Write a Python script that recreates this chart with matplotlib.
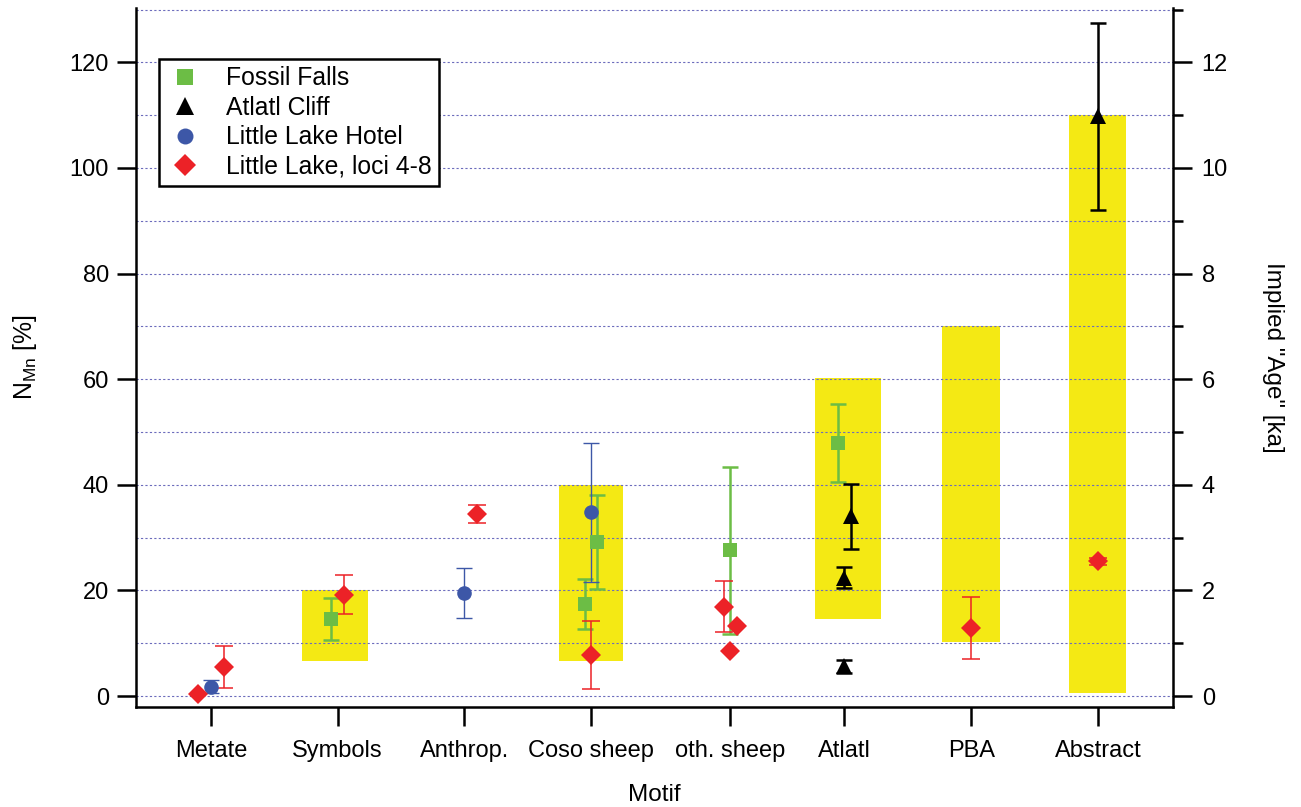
import matplotlib
matplotlib.use('Agg')
import matplotlib.pyplot as plt
from matplotlib.ticker import MultipleLocator
import numpy as np

plt.rcParams['font.family'] = ['Liberation Sans', 'DejaVu Sans']

# kategorie (motywy)
categories = ['Metate', 'Symbols', 'Anthrop.', 'Coso sheep', 'oth. sheep',
              'Atlatl', 'PBA', 'Abstract']
cat_pos = [0, 1, 2, 3, 4.1, 5, 6, 7]

# Fossil Falls
ff_cat = ['Symbols', 'Coso sheep', 'Coso sheep', 'oth. sheep', 'Atlatl']
ff_val = [14.6, 29.2, 17.4, 27.6, 47.9]
ff_err = [4.0, 8.9, 4.8, 15.8, 7.4]
ff_dx = [-0.05, 0.05, -0.05, 0.0, -0.05]

# Atlatl Cliff
ac_cat = ['Atlatl', 'Atlatl', 'Atlatl', 'Abstract']
ac_val = [34.0, 22.4, 5.6, 109.8]
ac_err = [6.1, 2.0, 1.2, 17.7]
ac_dx = [0.05, 0.0, 0.0, 0.0]

# Little Lake Hotel
llh_cat = ['Metate', 'Anthrop.', 'Coso sheep']
llh_val = [1.8, 19.5, 34.8]
llh_err = [1.2, 4.8, 13.2]
llh_dx = [0.0, 0.0, 0.0]

# Little Lake, loci 4-8
ll_cat = ['Metate', 'Metate', 'Symbols', 'Anthrop.', 'Coso sheep', 'oth. sheep',
          'oth. sheep', 'oth. sheep', 'PBA', 'Abstract']
ll_val = [0.4, 5.5, 19.2, 34.4, 7.8, 16.9, 13.2, 8.6, 12.9, 25.5]
ll_err = [0.0, 3.9, 3.7, 1.7, 6.4, 4.8, 0.0, 0.0, 5.8, 0.6]
ll_dx = [-0.1, 0.1, 0.05, 0.1, 0.0, -0.05, 0.05, 0.0, 0.0, 0.0]

# przedzialy wieku [ka] (zolte slupki)
age_cat = ['Symbols', 'Coso sheep', 'Atlatl', 'PBA', 'Abstract']
age_lo = [0.66, 0.67, 1.46, 1.03, 0.06]
age_hi = [2.0, 4.0, 6.02, 7.0, 11.0]
age_width = [0.52, 0.5, 0.52, 0.46, 0.45]
age_dx = [-0.02, 0.0, 0.03, 0.0, 0.0]

KA_SCALE = 10.0  # 1 ka = 10 %

GREEN = '#6cbd45'
BLUE = '#3d57a7'
RED = '#ec2227'
YELLOW = '#f4e914'
GRID = '#6c6cbc'


def xs(cats, dx):
    return [cat_pos[categories.index(c)] + d for c, d in zip(cats, dx)]


def series(ax, cats, dx, val, err, marker, ms, color, lw, cap):
    eb = ax.errorbar(xs(cats, dx), val, yerr=err, fmt=marker, ms=ms, color=color,
                     ecolor=color, elinewidth=lw, capsize=cap, capthick=lw, zorder=3)
    eb[0].set_markeredgewidth(0)
    return eb


fig = plt.figure(figsize=(13.01, 8.07), dpi=100)
ax = fig.add_axes([0.1045, 0.1239, 0.7971, 0.8662])

# zolte slupki z zakresem wieku
bx = xs(age_cat, age_dx)
lo = np.array(age_lo) * KA_SCALE
hi = np.array(age_hi) * KA_SCALE
ax.bar(bx, hi - lo, bottom=lo, width=age_width, color=YELLOW, zorder=1)

# serie z slupkami bledow
series(ax, ff_cat, ff_dx, ff_val, ff_err, 's', 10.5, GREEN, 1.8, 5.5)
series(ax, ac_cat, ac_dx, ac_val, ac_err, '^', 12, 'black', 1.8, 5.8)
series(ax, llh_cat, llh_dx, llh_val, llh_err, 'o', 10.5, BLUE, 1.0, 5.5)
series(ax, ll_cat, ll_dx, ll_val, ll_err, 'D', 10.5, RED, 1.1, 6.5)

# legenda (same markery)
ax.plot([], [], 's', ms=11, color=GREEN, mew=0, label='Fossil Falls')
ax.plot([], [], '^', ms=12.5, color='black', mew=0, label='Atlatl Cliff')
ax.plot([], [], 'o', ms=11.5, color=BLUE, mew=0, label='Little Lake Hotel')
ax.plot([], [], 'D', ms=11, color=RED, mew=0, label='Little Lake, loci 4-8')
leg = ax.legend(loc='upper left', bbox_to_anchor=(0.022, 0.927), fontsize=17.8,
                frameon=True, fancybox=False, edgecolor='black', framealpha=1,
                borderpad=0.3, labelspacing=0.22, handlelength=1.5,
                handletextpad=0.9, borderaxespad=0)
leg.get_frame().set_linewidth(1.8)
leg.set_zorder(5)

ax.set_xlim(-0.592, 7.593)
ax.set_ylim(-2.08, 130.3)
ax.set_xticks(cat_pos)
ax.set_xticklabels(categories)
ax.yaxis.set_major_locator(MultipleLocator(20))
ax.yaxis.set_minor_locator(MultipleLocator(10))
ax.grid(True, axis='y', which='both', color=GRID, lw=0.8, ls=(0, (2, 2)))
ax.set_axisbelow('line')

ax.tick_params(axis='both', which='major', direction='out', length=13.5, width=1.8,
               labelsize=17, pad=6, colors='black')
ax.tick_params(axis='x', pad=10)
ax.tick_params(axis='y', which='minor', length=0)
for s in ['left', 'bottom']:
    ax.spines[s].set_linewidth(1.8)
ax.spines['top'].set_visible(False)
ax.spines['right'].set_visible(False)

ax.set_xlabel('Motif', fontsize=17.5, labelpad=16)
ax.set_ylabel(r'N$_\mathregular{Mn}$ [%]', fontsize=17.8, labelpad=22)

# prawa os - wiek
ax2 = ax.twinx()
ax2.set_ylim(ax.get_ylim()[0] / KA_SCALE, ax.get_ylim()[1] / KA_SCALE)
ax2.yaxis.set_major_locator(MultipleLocator(2))
ax2.yaxis.set_minor_locator(MultipleLocator(1))
ax2.tick_params(axis='y', which='major', direction='out', length=13.7, width=1.8,
                labelsize=17, pad=7)
ax2.tick_params(axis='y', which='minor', direction='out', length=7.2, width=1.8)
for s in ['left', 'bottom', 'top']:
    ax2.spines[s].set_visible(False)
ax2.spines['right'].set_linewidth(1.8)
ax2.set_ylabel('Implied "Age" [ka]', fontsize=17.5, rotation=270, labelpad=40)

fig.savefig('out.png', dpi=100)
